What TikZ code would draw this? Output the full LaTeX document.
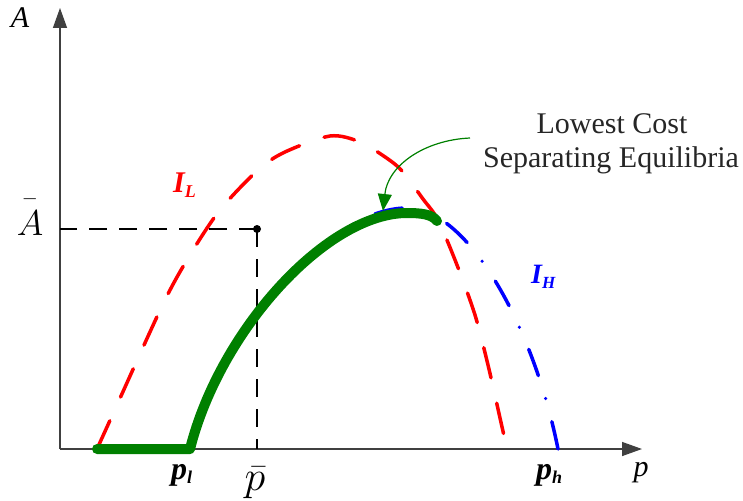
\RequirePackage{fix-cm}
\documentclass[tikz,border=0pt]{standalone}
\usepackage[no-math]{fontspec}
\setmainfont{Liberation Serif}
\usetikzlibrary{arrows.meta}
\definecolor{eqgreen}{RGB}{0,128,0}
\begin{document}
\begin{tikzpicture}[x=1pt,y=-1pt,
  axis/.style={draw=black!75,line width=1.4pt,-{Triangle[length=20pt,width=14pt]}},
  ilcurve/.style={draw=red,line width=3.5pt,line cap=round,dash pattern=on 31pt off 26pt},
  ihcurve/.style={draw=blue,line width=3.5pt,line cap=round,dash pattern=on 28pt off 24pt on 0pt off 24pt},
  sepcurve/.style={draw=eqgreen,line width=10pt,line cap=round,line join=round},
  guide/.style={draw=black,line width=2pt,dash pattern=on 18pt off 12pt},
  lbl/.style={inner sep=0pt,anchor=base},
  bigtxt/.style={font=\fontsize{30}{34}\selectfont},
  callout/.style={draw=eqgreen,line width=1.2pt,-{Triangle[length=17pt,width=14pt]}}]
\useasboundingbox (0,0) rectangle (743,500);

% axes
\coordinate (O) at (60,449);
\coordinate (ytop) at (60,8);
\coordinate (xend) at (642,449);
\draw[axis] (O) -- (ytop);
\draw[axis] (O) -- (xend);

% I_L curve (red dashed)
\draw[ilcurve] plot[smooth] coordinates {(97,449) (112,416) (163,304) (190,255) (220,210) (258,170) (285,152) (330,136) (360,142) (388,159) (403,172) (423,199) (438,220) (457,265) (475,315) (488,365) (500,418) (507,449)};

% I_H curve (blue dash-dot), drawn from its right end
\draw[ihcurve] (558,449) .. controls (533,324) and (467,208) .. (407,208)
  .. controls (330,208) and (224,326) .. (190,449);

% guide lines and point
\node[circle,fill=black,inner sep=0pt,minimum size=8pt] (pt) at (257,229) {};
\coordinate (ya) at (60,229);
\coordinate (xa) at (257,449);
\draw[guide] (pt.center) -- (ya);
\draw[guide] (pt.center) -- (xa);

% lowest cost separating equilibria (green)
\draw[sepcurve] (97,449) -- (190,449) .. controls (220,330) and (327,213) .. (407,213)
  .. controls (420,213) and (432,214) .. (437,221);

% labels
\node[lbl,font=\fontsize{30}{30}\selectfont\itshape] (Alab) at (20,28) {A};
\node[lbl,font=\fontsize{30}{30}\selectfont\itshape] (plab) at (641,476) {p};
\node[lbl,font=\fontsize{36}{36}\selectfont] (Abar) at (30,235) {$\bar{\rule{0pt}{0.85em}A}$};
\node[lbl,font=\fontsize{42}{42}\selectfont] (pbar) at (255,490) {$\bar{p}$};
\node[lbl,anchor=base west,font=\fontsize{32}{32}\selectfont\bfseries\itshape] (pl) at (171,479) {p\raisebox{-4pt}{\fontsize{18}{18}\selectfont l}};
\node[lbl,anchor=base west,font=\fontsize{32}{32}\selectfont\bfseries\itshape] (ph) at (536,479) {p\raisebox{-4pt}{\fontsize{18}{18}\selectfont h}};
\node[lbl,anchor=base west,text=red,font=\fontsize{30}{30}\selectfont\bfseries\itshape] (IL) at (173,192) {I\raisebox{-5pt}{\fontsize{18}{18}\selectfont L}};
\node[lbl,anchor=base west,text=blue,font=\fontsize{28}{28}\selectfont\bfseries\itshape] (IH) at (531,283) {I\raisebox{-5pt}{\fontsize{17}{17}\selectfont H}};

\node[lbl,bigtxt,text=black!85] (lc1) at (612,133) {Lowest Cost};
\node[lbl,bigtxt,text=black!85] (lc2) at (611,167) {Separating Equilibria};

% callout arrow
\coordinate (arrS) at (470,138);
\coordinate (arrE) at (383,211);
\draw[callout] (arrS) .. controls (425,140) and (388,165) .. (arrE);
\end{tikzpicture}
\end{document}
